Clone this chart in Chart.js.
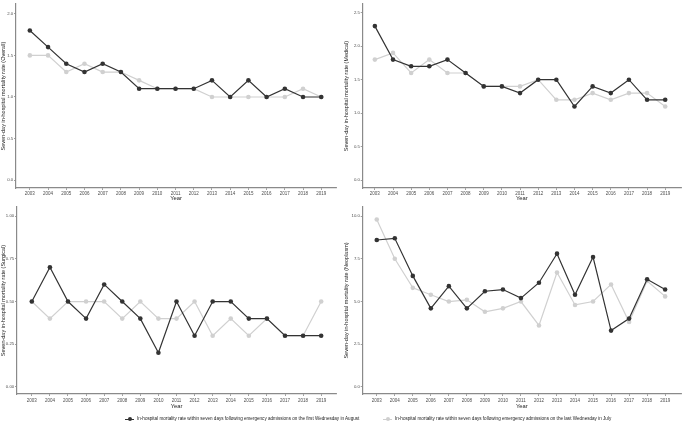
<!DOCTYPE html>
<html>
<head>
<meta charset="utf-8">
<script src="https://cdn.jsdelivr.net/npm/chart.js@4.4.0/dist/chart.umd.min.js"></script>
<style>
  html, body { margin:0; padding:0; background:#fff; }
  #wrap { position:relative; width:685px; height:422px; overflow:hidden; background:#fff; }
  canvas { position:absolute; }
  #legend { position:absolute; top:415px; left:0; width:685px; height:8px; font-family:"Liberation Sans", Arial, sans-serif; font-size:4.6px; color:#222; }
  .item { position:absolute; top:0; white-space:nowrap; line-height:8px; }
  .key { position:absolute; top:3.5px; width:9px; height:1.2px; }
  .dot { position:absolute; top:-1.4px; left:2.5px; width:4px; height:4px; border-radius:50%; }
  .txt { position:absolute; left:12px; top:0; }
</style>
</head>
<body>
<div id="wrap">
  <canvas id="c1" width="340" height="202" style="left:0;top:0"></canvas>
  <canvas id="c2" width="345" height="202" style="left:340px;top:0"></canvas>
  <canvas id="c3" width="340" height="214" style="left:0;top:200px"></canvas>
  <canvas id="c4" width="345" height="214" style="left:340px;top:200px"></canvas>
  <div id="legend">
    <div class="item" style="left:125px"><div class="key" style="background:#333"><div class="dot" style="background:#333"></div></div><span class="txt" id="lg1"></span></div>
    <div class="item" style="left:383px"><div class="key" style="background:#cfcfcf"><div class="dot" style="background:#cfcfcf"></div></div><span class="txt" id="lg2"></span></div>
  </div>
</div>
<script>
// ---- data ----
const years = [2003, 2004, 2005, 2006, 2007, 2008, 2009, 2010, 2011, 2012, 2013, 2014, 2015, 2016, 2017, 2018, 2019];

const seriesAug = "In-hospital mortality rate within seven days following emergency admissions on the first Wednesday in August";
const seriesJul = "In-hospital mortality rate within seven days following emergency admissions on the last Wednesday in July";

const overallAug = [1.8, 1.6, 1.4, 1.3, 1.4, 1.3, 1.1, 1.1, 1.1, 1.1, 1.2, 1.0, 1.2, 1.0, 1.1, 1.0, 1.0];
const overallJul = [1.5, 1.5, 1.3, 1.4, 1.3, 1.3, 1.2, 1.1, 1.1, 1.1, 1.0, 1.0, 1.0, 1.0, 1.0, 1.1, 1.0];

const medicalAug = [2.3, 1.8, 1.7, 1.7, 1.8, 1.6, 1.4, 1.4, 1.3, 1.5, 1.5, 1.1, 1.4, 1.3, 1.5, 1.2, 1.2];
const medicalJul = [1.8, 1.9, 1.6, 1.8, 1.6, 1.6, 1.4, 1.4, 1.4, 1.5, 1.2, 1.2, 1.3, 1.2, 1.3, 1.3, 1.1];

const surgicalAug = [0.5, 0.7, 0.5, 0.4, 0.6, 0.5, 0.4, 0.2, 0.5, 0.3, 0.5, 0.5, 0.4, 0.4, 0.3, 0.3, 0.3];
const surgicalJul = [0.5, 0.4, 0.5, 0.5, 0.5, 0.4, 0.5, 0.4, 0.4, 0.5, 0.3, 0.4, 0.3, 0.4, 0.3, 0.3, 0.5];

const neoplasmAug = [8.6, 8.7, 6.5, 4.6, 5.9, 4.6, 5.6, 5.7, 5.2, 6.1, 7.8, 5.4, 7.6, 3.3, 4.0, 6.3, 5.7];
const neoplasmJul = [9.8, 7.5, 5.8, 5.4, 5.0, 5.1, 4.4, 4.6, 5.0, 3.6, 6.7, 4.8, 5.0, 6.0, 3.8, 6.2, 5.3];

const overallTicks = [0, 0.5, 1.0, 1.5, 2.0];
const overallTickLabels = ["0.0", "0.5", "1.0", "1.5", "2.0"];
const medicalTicks = [0, 0.5, 1.0, 1.5, 2.0, 2.5];
const medicalTickLabels = ["0.0", "0.5", "1.0", "1.5", "2.0", "2.5"];
const surgicalTicks = [0, 0.25, 0.5, 0.75, 1.0];
const surgicalTickLabels = ["0.00", "0.25", "0.50", "0.75", "1.00"];
const neoplasmTicks = [0, 2.5, 5.0, 7.5, 10.0];
const neoplasmTickLabels = ["0.0", "2.5", "5.0", "7.5", "10.0"];

const yTitles = [
  "Seven-day in-hospital mortality rate (Overall)",
  "Seven-day in-hospital mortality rate (Medical)",
  "Seven-day in-hospital mortality rate (Surgical)",
  "Seven-day in-hospital mortality rate (Neoplasm)"
];
const xTitle = "Year";

document.getElementById('lg1').textContent = seriesAug;
document.getElementById('lg2').textContent = seriesJul;

// ---- chart builder ----
const FONT = "'Liberation Sans', Arial, sans-serif";
function panel(id, aug, jul, ticks, tickLabels, title, cfg) {
  const toPts = arr => years.map((y, i) => ({ x: y, y: arr[i] }));
  new Chart(document.getElementById(id), {
    type: 'line',
    data: {
      datasets: [
        { label: seriesAug, data: toPts(aug), borderColor: '#333333', backgroundColor: '#333333',
          pointBackgroundColor: '#333333', pointBorderColor: '#333333', borderWidth: 1.2,
          pointRadius: 2.3, pointBorderWidth: 0, tension: 0 },
        { label: seriesJul, data: toPts(jul), borderColor: '#d0d0d0', backgroundColor: '#d0d0d0',
          pointBackgroundColor: '#d0d0d0', pointBorderColor: '#d0d0d0', borderWidth: 1.2,
          pointRadius: 2.3, pointBorderWidth: 0, tension: 0 }
      ]
    },
    options: {
      responsive: false,
      animation: false,
      events: [],
      layout: { padding: { top: cfg.padTop, left: 0, right: 0, bottom: 0 } },
      plugins: { legend: { display: false }, tooltip: { enabled: false } },
      scales: {
        x: {
          type: 'linear', min: cfg.xMin, max: cfg.xMax,
          afterBuildTicks: s => { s.ticks = years.map(v => ({ value: v })); },
          afterFit: s => { s.height = cfg.xH; },
          ticks: { callback: v => String(v), font: { family: FONT, size: 4.5 }, color: '#4d4d4d',
                   padding: cfg.xPad, maxRotation: 0, autoSkip: false },
          grid: { drawOnChartArea: false, tickLength: 2, color: '#888', lineWidth: 0.8 },
          border: { display: true, color: '#8a8a8a', width: 1.2 },
          title: { display: true, text: xTitle, font: { family: FONT, size: 5.8, lineHeight: 1 }, color: '#222',
                   padding: { top: 0, bottom: cfg.xTitlePad } }
        },
        y: {
          type: 'linear', min: cfg.yMin, max: cfg.yMax,
          afterBuildTicks: s => { s.ticks = ticks.map(v => ({ value: v })); },
          afterFit: s => { s.width = cfg.yW; },
          ticks: { callback: (v, i) => tickLabels[i], font: { family: FONT, size: 4.3 }, color: '#4d4d4d',
                   padding: 0.8, autoSkip: false },
          grid: { drawOnChartArea: false, tickLength: 2, color: '#888', lineWidth: 0.8 },
          border: { display: true, color: '#8a8a8a', width: 1.2 },
          title: { display: true, text: title, font: { family: FONT, size: 5.5, lineHeight: 1 }, color: '#222',
                   padding: { top: cfg.yTitlePad, bottom: 0 } }
        }
      }
    }
  });
}

panel('c1', overallAug, overallJul, overallTicks, overallTickLabels, yTitles[0],
  { padTop: 0, xH: 14, xPad: 1, xTitlePad: 0.5, yW: 16, yTitlePad: 0.3, xMin: 2002.24, xMax: 2019.81, yMin: -0.094, yMax: 2.118 });
panel('c2', medicalAug, medicalJul, medicalTicks, medicalTickLabels, yTitles[1],
  { padTop: 0, xH: 14, xPad: 1, xTitlePad: 0.5, yW: 22.7, yTitlePad: 4, xMin: 2002.33, xMax: 2019.87, yMin: -0.117, yMax: 2.63 });
panel('c3', surgicalAug, surgicalJul, surgicalTicks, surgicalTickLabels, yTitles[2],
  { padTop: 7, xH: 20, xPad: 2, xTitlePad: 4.5, yW: 17, yTitlePad: 0.3, xMin: 2002.18, xMax: 2019.82, yMin: -0.041, yMax: 1.053 });
panel('c4', neoplasmAug, neoplasmJul, neoplasmTicks, neoplasmTickLabels, yTitles[3],
  { padTop: 7, xH: 20, xPad: 2, xTitlePad: 4.5, yW: 22.7, yTitlePad: 4, xMin: 2002.22, xMax: 2019.88, yMin: -0.41, yMax: 10.53 });
</script>
</body>
</html>
